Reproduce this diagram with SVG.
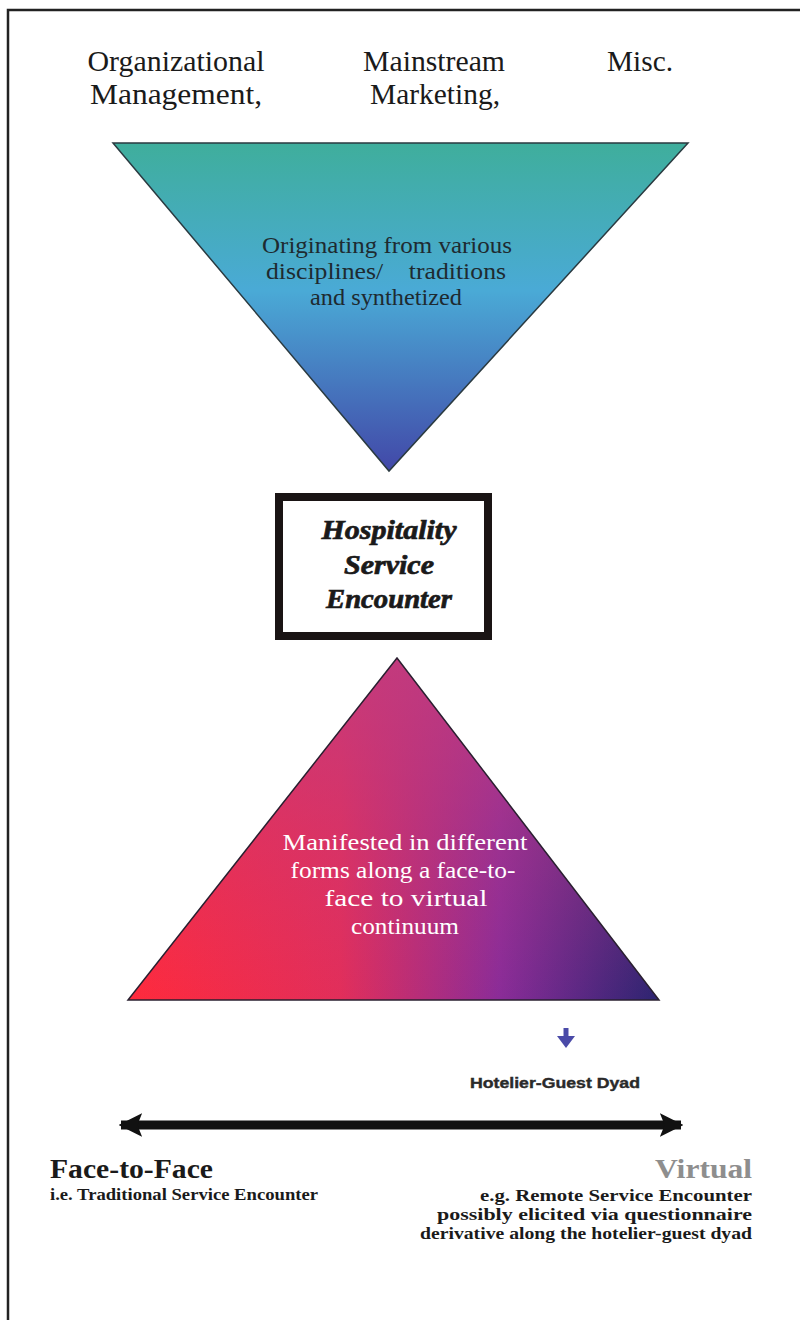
<svg xmlns="http://www.w3.org/2000/svg" width="800" height="1320" viewBox="0 0 800 1320">
  <style>
    .hdr { font-family: "Liberation Serif", "Times New Roman", serif; font-size: 30px; fill: #1a1a1a; text-anchor: middle; }
    .tri1 { font-family: "Liberation Serif", "Times New Roman", serif; font-size: 23px; fill: #1e2a30; text-anchor: middle; }
    .tri2 { font-family: "Liberation Serif", "Times New Roman", serif; font-size: 24px; fill: #ffffff; text-anchor: middle; }
    .core { font-family: "Liberation Serif", "Times New Roman", serif; font-size: 28px; font-weight: bold; font-style: italic; fill: #1a1a1a; stroke: #1a1a1a; stroke-width: 0.7; text-anchor: middle; }
    .pole { font-family: "Liberation Serif", "Times New Roman", serif; font-size: 27px; font-weight: bold; }
    .note { font-family: "Liberation Serif", "Times New Roman", serif; font-size: 16.5px; font-weight: bold; fill: #1a1a1a; }
    .dyad { font-family: "Liberation Sans", Arial, sans-serif; font-size: 15px; font-weight: bold; fill: #2a2a2a; stroke: #2a2a2a; stroke-width: 0.4; }
  </style>
  <defs>
    <linearGradient id="gradTop" x1="0" y1="0" x2="0" y2="1">
      <stop offset="0" stop-color="#3fae9c"/>
      <stop offset="0.45" stop-color="#4aaad6"/>
      <stop offset="1" stop-color="#4248a8"/>
    </linearGradient>
    <linearGradient id="gradBotH" x1="0" y1="0" x2="1" y2="0">
      <stop offset="0" stop-color="#ff2a3c"/>
      <stop offset="0.4" stop-color="#e22e5a"/>
      <stop offset="0.7" stop-color="#8a2c98"/>
      <stop offset="1" stop-color="#2c2470"/>
    </linearGradient>
    <linearGradient id="gradBotV" x1="0" y1="0" x2="0" y2="1">
      <stop offset="0" stop-color="#c23c80" stop-opacity="0.85"/>
      <stop offset="0.5" stop-color="#c23c80" stop-opacity="0.35"/>
      <stop offset="1" stop-color="#c23c80" stop-opacity="0"/>
    </linearGradient>
    <marker id="head" viewBox="0 0 10 10" refX="9" refY="5" markerWidth="2.6" markerHeight="3" orient="auto-start-reverse" markerUnits="strokeWidth">
      <path d="M0,0 L10,5 L0,10 L2,5 Z" fill="#111"/>
    </marker>
  </defs>

  <rect width="800" height="1320" fill="#ffffff"/>

  <!-- page frame: top and left rules -->
  <path d="M8,1320 V10 H800" fill="none" stroke="#222" stroke-width="2.5"/>

  <!-- source disciplines -->
  <g id="sources">
    <text class="hdr" x="176" y="71" textLength="177" lengthAdjust="spacingAndGlyphs">Organizational</text>
    <text class="hdr" x="176" y="104" textLength="172" lengthAdjust="spacingAndGlyphs">Management,</text>
    <text class="hdr" x="434" y="71" textLength="142" lengthAdjust="spacingAndGlyphs">Mainstream</text>
    <text class="hdr" x="435" y="104" textLength="130" lengthAdjust="spacingAndGlyphs">Marketing,</text>
    <text class="hdr" x="640" y="71" textLength="66" lengthAdjust="spacingAndGlyphs">Misc.</text>
  </g>

  <!-- inverted triangle: origins -->
  <g id="origins">
    <polygon points="113,143 688,143 389,471" fill="url(#gradTop)" stroke="#2a3a40" stroke-width="1.5"/>
    <text class="tri1" x="387" y="253" textLength="250" lengthAdjust="spacingAndGlyphs">Originating from various</text>
    <text class="tri1" x="386" y="279" textLength="240" lengthAdjust="spacingAndGlyphs" xml:space="preserve">disciplines/    traditions</text>
    <text class="tri1" x="386" y="305" textLength="152" lengthAdjust="spacingAndGlyphs">and synthetized</text>
  </g>

  <!-- central concept -->
  <g id="encounter">
    <rect x="279" y="497" width="209" height="139" fill="#ffffff" stroke="#1a1414" stroke-width="8"/>
    <text class="core" x="389" y="539" textLength="135" lengthAdjust="spacingAndGlyphs">Hospitality</text>
    <text class="core" x="389" y="574" textLength="90" lengthAdjust="spacingAndGlyphs">Service</text>
    <text class="core" x="389" y="608" textLength="126" lengthAdjust="spacingAndGlyphs">Encounter</text>
  </g>

  <!-- upright triangle: manifestations -->
  <g id="manifestations">
    <polygon points="397,658 128,1000 659,1000" fill="url(#gradBotH)"/>
    <polygon points="397,658 128,1000 659,1000" fill="url(#gradBotV)" stroke="#2a2030" stroke-width="1.5"/>
    <text class="tri2" x="405" y="850" textLength="245" lengthAdjust="spacingAndGlyphs">Manifested in different</text>
    <text class="tri2" x="403" y="878" textLength="225" lengthAdjust="spacingAndGlyphs">forms along a face-to-</text>
    <text class="tri2" x="406" y="906" textLength="163" lengthAdjust="spacingAndGlyphs">face to virtual</text>
    <text class="tri2" x="405" y="934" textLength="108" lengthAdjust="spacingAndGlyphs">continuum</text>
  </g>

  <!-- dyad pointer -->
  <g id="dyad">
    <path d="M566,1028 V1040" stroke="#4a4aa8" stroke-width="5" fill="none"/>
    <path d="M557,1036 L566,1048 L575,1036 Z" fill="#4a4aa8"/>
    <text class="dyad" x="555" y="1088" text-anchor="middle" textLength="170" lengthAdjust="spacingAndGlyphs">Hotelier-Guest Dyad</text>
  </g>

  <!-- continuum axis -->
  <g id="connectors">
    <line x1="121" y1="1125" x2="681" y2="1125" stroke="#111" stroke-width="9" marker-start="url(#head)" marker-end="url(#head)"/>
  </g>

  <!-- continuum poles -->
  <g id="face-to-face">
    <text class="pole" x="50" y="1178" fill="#1a1a1a" textLength="163" lengthAdjust="spacingAndGlyphs">Face-to-Face</text>
    <text class="note" x="50" y="1200" textLength="268" lengthAdjust="spacingAndGlyphs">i.e. Traditional Service Encounter</text>
  </g>
  <g id="virtual">
    <text class="pole" x="752" y="1178" fill="#8e8e8e" text-anchor="end" textLength="97" lengthAdjust="spacingAndGlyphs">Virtual</text>
    <text class="note" x="752" y="1201" text-anchor="end" textLength="272" lengthAdjust="spacingAndGlyphs">e.g. Remote Service Encounter</text>
    <text class="note" x="752" y="1220" text-anchor="end" textLength="315" lengthAdjust="spacingAndGlyphs">possibly elicited via questionnaire</text>
    <text class="note" x="752" y="1239" text-anchor="end" textLength="332" lengthAdjust="spacingAndGlyphs">derivative along the hotelier-guest dyad</text>
  </g>
</svg>
